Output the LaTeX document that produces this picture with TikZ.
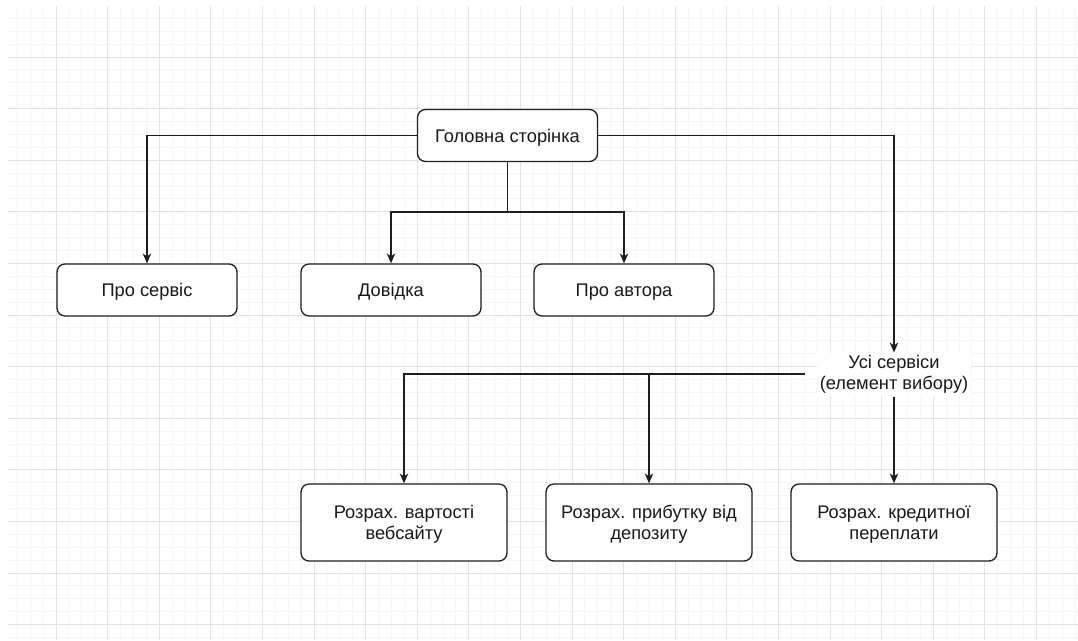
\documentclass[tikz,border=0pt]{standalone}
\usepackage{fontspec}
\setmainfont{Liberation Sans}
\usetikzlibrary{arrows.meta,calc,positioning}
\definecolor{gridminor}{HTML}{F5F5F5}
\definecolor{gridmajor}{HTML}{E4E4E4}
\definecolor{linecol}{HTML}{1E1E1E}

\begin{document}
\begin{tikzpicture}[x=0.02cm,y=-0.02cm,
  every node/.style={font=\fontsize{10.4}{12}\selectfont,text=black!90},
  box/.style={draw=linecol,line width=0.75pt,rounded corners=0.16cm,fill=white,align=center,minimum width=3.6cm,minimum height=1.04cm,inner sep=0pt,text depth=0pt},
  calcbox/.style={box,minimum width=4.12cm,minimum height=1.54cm},
  arr/.style={draw=linecol,line width=0.75pt,-{Stealth[length=5.6pt,width=4.8pt,inset=1.6pt]}},
  link/.style={draw=linecol,line width=0.75pt}]
\useasboundingbox[fill=white] (0,0) rectangle (1078,640);
% background grid
\foreach \i in {0,...,82} \draw[gridminor,line width=0.55pt] ({17.3+12.9*\i},6) -- ({17.3+12.9*\i},640);
\foreach \j in {0,...,48} \draw[gridminor,line width=0.55pt] (8,{18.3+12.9*\j}) -- (1078,{18.3+12.9*\j});
\foreach \i in {0,...,19} \draw[gridmajor,line width=0.55pt] ({56+51.6*\i},6) -- ({56+51.6*\i},640);
\foreach \j in {0,...,11} \draw[gridmajor,line width=0.55pt] (8,{57+51.6*\j}) -- (1078,{57+51.6*\j});

\node[box] (home) at (507.5,135.5) {Головна сторінка};
\node[box] (about) at (147,290) {Про сервіс};
\node[box] (help) at (391,290) {Довідка};
\node[box] (author) at (624,290) {Про автора};
\node[fill=white,align=center,inner sep=1.5pt] (all) at (894,374.5) {Усі сервіси\\(елемент вибору)};
\node[calcbox] (site) at (404,522.5) {Розрах. вартості\\вебсайту};
\node[calcbox] (deposit) at (649,522.5) {Розрах. прибутку від\\депозиту};
\node[calcbox] (credit) at (894,522.5) {Розрах. кредитної\\переплати};

\coordinate (hsplit) at (home.south |- 0,212);
\coordinate (asplit) at (805,374);

\draw[arr] (home.west) -| (about.north);
\draw[arr] (home.east) -| (all.north);
\draw[link] (home.south) -- (hsplit);
\draw[arr] (hsplit) -| (help.north);
\draw[arr] (hsplit) -| (author.north);
\draw[arr] (asplit) -| (site.north);
\draw[arr] (asplit) -| (deposit.north);
\draw[arr] (all.south) -- (credit.north);
\end{tikzpicture}
\end{document}
